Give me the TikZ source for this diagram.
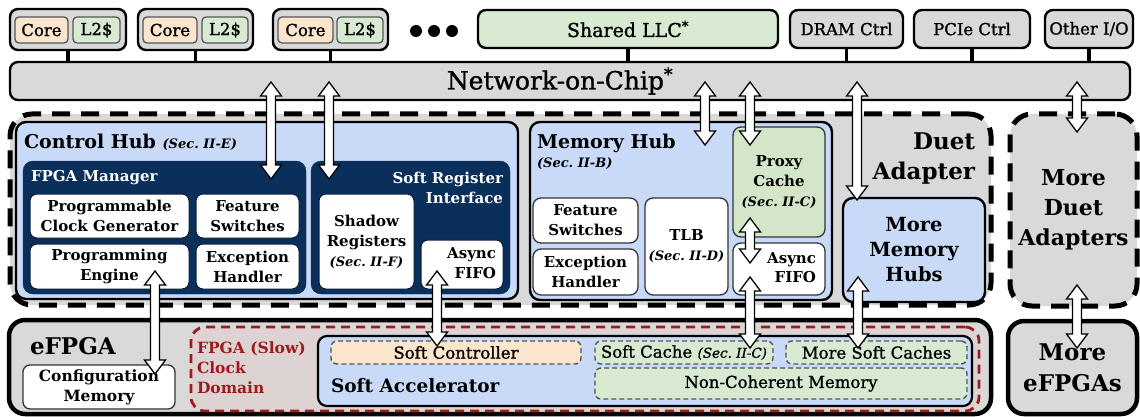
\documentclass[tikz,border=0pt]{standalone}
\usepackage{fontspec}
\setmainfont{DejaVu Serif}
\newfontfamily\medfont[FakeBold=1.2]{DejaVu Serif}
\usetikzlibrary{calc}

\definecolor{boxgray}{HTML}{D9D9D9}
\definecolor{peach}{HTML}{FCE5CD}
\definecolor{lgreen}{HTML}{D9EAD3}
\definecolor{lblue}{HTML}{C9DAF8}
\definecolor{navy}{HTML}{0B2F5B}
\definecolor{proxygreen}{HTML}{D3E6C9}
\definecolor{darkred}{HTML}{9E1B1B}
\definecolor{domainfill}{HTML}{DDD3D3}
\definecolor{edgegray}{HTML}{555555}
\definecolor{edgedark}{HTML}{333333}

\newcommand\fsz[2]{\fontsize{#1}{#2}\selectfont}
\newcommand\secref[1]{{\itshape(Sec.~II-#1)}}
% block: style, name, x1, y1, x2, y2, text
\newcommand\blk[7]{%
  \pgfmathsetmacro\bw{#5-#3}\pgfmathsetmacro\bh{#6-#4}%
  \node[#1, anchor=north west, minimum width=\bw pt, minimum height=\bh pt] (#2) at (#3,#4) {#7};}
% hollow double-headed vertical arrow between two named points (top, bottom)
\newcommand\biarrow[2]{%
  \draw[hollow] let \p1=(#1), \p2=(#2) in
    (\x1,\y1) -- ++(10.5pt,-14pt) -- ++(-6pt,0pt) -- (\x1+4.5pt,\y2+14pt)
    -- ++(6pt,0pt) -- (\x1,\y2) -- ++(-10.5pt,14pt) -- ++(6pt,0pt)
    -- (\x1-4.5pt,\y1-14pt) -- ++(-6pt,0pt) -- cycle;}

\tikzset{
  every node/.style={inner sep=0pt, outer sep=0pt},
  grp/.style={draw=black, line width=2.4pt, fill=boxgray, rounded corners=8pt},
  topbox/.style={grp, font=\fsz{16.5}{19}\medfont},
  llcbox/.style={grp, fill=lgreen, font=\fsz{19}{21}\medfont},
  corebox/.style={draw=edgegray, line width=1.3pt, fill=peach, rounded corners=4pt, font=\fsz{16.5}{19}\medfont},
  l2box/.style={corebox, fill=lgreen},
  dotnode/.style={circle, fill=black, minimum size=12pt},
  stub/.style={line width=3.5pt},
  duetbox/.style={draw=black, line width=5pt, dash pattern=on 18pt off 11pt, fill=boxgray, rounded corners=22pt},
  hub/.style={draw=black, line width=2.4pt, fill=lblue, rounded corners=10pt},
  navybox/.style={fill=navy, draw=navy, rounded corners=10pt},
  wbox/.style={fill=white, draw=navy!60!black, line width=1pt, rounded corners=7pt, align=center, font=\fsz{15}{20}\bfseries},
  mbox/.style={fill=white, draw=edgedark, line width=1.3pt, rounded corners=8pt, align=center, font=\fsz{15}{20}\bfseries},
  proxybox/.style={mbox, fill=proxygreen},
  bigtext/.style={align=center, font=\fsz{22}{30}\bfseries},
  hubtitle/.style={font=\fsz{19}{22}\bfseries},
  whitetitle/.style={text=white, font=\fsz{15}{20}\bfseries},
  solidouter/.style={draw=black, line width=4.5pt, fill=boxgray, rounded corners=16pt},
  clkdomain/.style={draw=darkred, line width=2.8pt, dash pattern=on 9pt off 6pt, fill=domainfill, rounded corners=14pt},
  accel/.style={draw=black, line width=2.2pt, fill=lblue, rounded corners=9pt},
  softbox/.style={draw=edgegray, line width=1.4pt, dash pattern=on 5pt off 3pt, rounded corners=6pt, fill=lgreen, font=\fsz{16.5}{19}\medfont},
  hollow/.style={draw=black, fill=white, line width=1.3pt, line join=miter},
}

\begin{document}
\begin{tikzpicture}[x=1pt,y=-1pt]
\useasboundingbox (0,0) rectangle (1140,417);

% ---- processor tiles and uncore blocks
\blk{grp}{g1}{10}{9}{126}{50}{}
\blk{corebox}{c1}{15}{17}{68}{43}{Core}
\blk{l2box}{l1}{73}{17}{120}{43}{L2\$}
\blk{grp}{g2}{138}{9}{253}{50}{}
\blk{corebox}{c2}{143}{17}{197}{43}{Core}
\blk{l2box}{l2}{202}{17}{248}{43}{L2\$}
\blk{grp}{g3}{273}{9}{388}{50}{}
\blk{corebox}{c3}{278}{17}{333}{43}{Core}
\blk{l2box}{l3}{337}{17}{383}{43}{L2\$}
\node[dotnode] (d1) at (416,31) {};
\node[dotnode] (d2) at (434,31) {};
\node[dotnode] (d3) at (452,31) {};
\blk{llcbox}{llc}{478}{10}{778}{48}{Shared LLC\textsuperscript{*}}
\blk{topbox}{dram}{790}{10}{903}{48}{DRAM Ctrl}
\blk{topbox}{pcie}{914}{10}{1030}{48}{PCIe Ctrl}
\blk{topbox}{oio}{1045}{10}{1133}{48}{Other I/O}

% ---- network-on-chip
\blk{grp}{noc}{10}{62}{1130}{100}{}
\node[font=\fsz{25}{27}\medfont] (noclabel) at (560,81) {Network-on-Chip\textsuperscript{*}};
\foreach \n in {g1,g2,g3,llc,dram,pcie,oio}
  \draw[stub] (\n.south) -- (\n.south |- noc.north);

% ---- Duet adapter
\blk{duetbox}{duet}{10}{114}{991}{305}{}
\node[anchor=north east, align=right, font=\fsz{23}{30}\bfseries] (duetlabel) at (975,133) {Duet\\Adapter};
\blk{duetbox,bigtext}{moreduet}{1010}{114}{1137}{306}{More\\Duet\\Adapters}

% control hub
\blk{hub}{ctrlhub}{16}{122}{518}{299}{}
\node[anchor=base west, hubtitle] (ctrltitle) at (24,149) {Control Hub {\fsz{13}{16}\secref{E}}};
\blk{navybox}{fpgamgr}{23}{161}{306}{294}{}
\node[anchor=base west, whitetitle] (fmtitle) at (31,181) {FPGA Manager};
\blk{wbox}{pcg}{30}{194}{189}{238}{Programmable\\Clock Generator}
\blk{wbox}{fs1}{196}{194}{299}{238}{Feature\\Switches}
\blk{wbox}{pe}{30}{244}{189}{289}{Programming\\Engine}
\blk{wbox}{eh1}{196}{244}{299}{289}{Exception\\Handler}
\blk{navybox}{sri}{311}{161}{510}{294}{}
\node[anchor=north east, align=right, whitetitle] (srititle) at (503,172) {Soft Register\\Interface};
\blk{wbox}{shadow}{319}{194}{414}{289}{Shadow\\Registers\\{\fsz{13}{16}\secref{F}}}
\blk{wbox}{afifo1}{421}{240}{503}{289}{}
\node[anchor=north east, align=right, font=\fsz{15}{20}\bfseries] (af1text) at (496,248) {Async\\FIFO};

% memory hub
\blk{hub}{memhub}{530}{122}{832}{300}{}
\node[anchor=base west, hubtitle] (memtitle) at (537,148) {Memory Hub};
\node[anchor=base west, font=\fsz{13}{16}\bfseries] (memsec) at (537,167) {\secref{B}};
\blk{proxybox}{proxy}{733}{127}{825}{237}{Proxy\\Cache\\{\fsz{13}{18}\secref{C}}}
\blk{mbox}{fs2}{533}{198}{638}{243}{Feature\\Switches}
\blk{mbox}{eh2}{533}{249}{638}{295}{Exception\\Handler}
\blk{mbox}{tlb}{645}{198}{728}{295}{TLB\\{\fsz{13}{18}\secref{D}}}
\blk{mbox}{afifo2}{733}{243}{825}{295}{}
\node[anchor=north east, align=right, font=\fsz{15}{19}\bfseries] (af2text) at (816,253) {Async\\FIFO};

% more memory hubs
\blk{hub,align=center,font=\fsz{19.5}{25}\bfseries}{mmh}{843}{198}{985}{302}{More\\Memory\\Hubs}

% ---- eFPGA
\blk{solidouter}{efpga}{9}{320}{991}{414}{}
\node[anchor=base west, font=\fsz{23}{26}\bfseries] (efpgatitle) at (30,354) {eFPGA};
\blk{mbox,rounded corners=7pt,font=\fsz{15.5}{20}\bfseries}{cfg}{23}{365}{175}{409}{Configuration\\Memory}
\blk{clkdomain}{slowdom}{191}{327}{979}{411}{}
\node[anchor=north west, align=left, text=darkred, font=\fsz{15.5}{20}\bfseries] (domtext) at (197,342) {FPGA (Slow)\\Clock\\Domain};
\blk{accel}{sacc}{318}{336}{972}{406}{}
\node[anchor=base west, font=\fsz{18.5}{22}\bfseries] (sacctitle) at (331,392) {Soft Accelerator};
\blk{softbox,fill=peach}{sctl}{331}{341}{581}{364}{Soft Controller}
\blk{softbox}{scache}{595}{341}{773}{364}{Soft Cache {\fsz{13.5}{16}\secref{C}}}
\blk{softbox}{msc}{786}{341}{967}{364}{More Soft Caches}
\blk{softbox}{ncm}{595}{368}{967}{399}{Non-Coherent Memory}
\blk{solidouter,align=center,font=\fsz{23}{31}\bfseries}{moreefpga}{1008}{321}{1137}{414}{More\\eFPGAs}

% ---- arrow end points
\coordinate (a1t) at (271,82);  \coordinate (a1b) at (271,179);
\coordinate (a2t) at (329,82);  \coordinate (a2b) at (329,179);
\coordinate (a3t) at (705,82);  \coordinate (a3b) at (705,145);
\coordinate (a4t) at (750,82);  \coordinate (a4b) at (750,145);
\coordinate (a5t) at (857,82);  \coordinate (a5b) at (857,200);
\coordinate (a6t) at (1077,82); \coordinate (a6b) at (1077,132);
\coordinate (a7t) at (155,271); \coordinate (a7b) at (155,374);
\coordinate (a8t) at (437,271); \coordinate (a8b) at (437,346);
\coordinate (a9t) at (750,218); \coordinate (a9b) at (750,263);
\coordinate (a10t) at (750,277); \coordinate (a10b) at (750,348);
\coordinate (a11t) at (858,277); \coordinate (a11b) at (858,348);
\coordinate (a12t) at (1077,285); \coordinate (a12b) at (1077,348);

\biarrow{a1t}{a1b}
\biarrow{a2t}{a2b}
\biarrow{a3t}{a3b}
\biarrow{a4t}{a4b}
\biarrow{a5t}{a5b}
\biarrow{a6t}{a6b}
\biarrow{a7t}{a7b}
\biarrow{a8t}{a8b}
\biarrow{a9t}{a9b}
\biarrow{a10t}{a10b}
\biarrow{a11t}{a11b}
\biarrow{a12t}{a12b}
\end{tikzpicture}
\end{document}
